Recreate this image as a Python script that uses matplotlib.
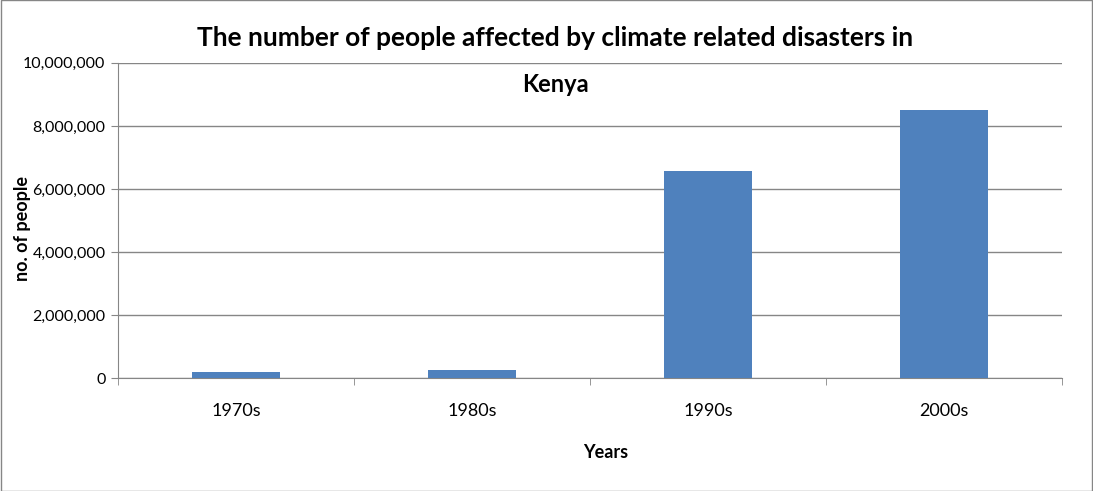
import numpy as np
import matplotlib
matplotlib.use("Agg")
import matplotlib.pyplot as plt
from matplotlib.ticker import FuncFormatter

decades = ["1970s", "1980s", "1990s", "2000s"]
affected = [190000, 260000, 6580000, 8520000]

plt.rcParams["font.family"] = ["Lato", "DejaVu Sans"]

fig = plt.figure(figsize=(10.93, 4.91), dpi=100)
ax = fig.add_axes([0.108, 0.230, 0.8636, 0.642])

x = np.arange(len(decades))
ax.bar(x, affected, width=0.37, color="#4f81bd", zorder=3)

ax.set_xlim(-0.5, len(decades) - 0.5)
ax.set_ylim(0, 10000000)
ax.set_yticks(np.arange(0, 10000001, 2000000))
ax.yaxis.set_major_formatter(FuncFormatter(lambda v, p: f"{int(v):,}"))
ax.set_xticks(x)
ax.set_xticklabels(decades)
ax.set_xticks(np.arange(-0.5, len(decades), 1), minor=True)
ax.tick_params(axis="x", which="major", length=0, labelsize=13, pad=18)
ax.tick_params(axis="x", which="minor", length=5, color="#868686")
ax.tick_params(axis="y", length=5, color="#868686", labelsize=11.5, pad=4)

ax.grid(axis="y", color="#868686", linewidth=1, zorder=0)
for s in ["top", "right"]:
    ax.spines[s].set_visible(False)
for s in ["left", "bottom"]:
    ax.spines[s].set_color("#868686")

fig.text(0.554, 0.079, "Years", ha="center", va="center", fontsize=13, fontweight="bold")
fig.text(0.021, 0.535, "no. of people", ha="center", va="center", rotation=90,
         fontsize=13, fontweight="bold")

fig.text(0.508, 0.922, "The number of people affected by climate related disasters in",
         ha="center", va="center", fontsize=19, fontweight="bold")
fig.text(0.508, 0.828, "Kenya", ha="center", va="center", fontsize=17, fontweight="bold")

border = plt.Rectangle((0.001, 0.001), 0.998, 0.998, transform=fig.transFigure,
                       fill=False, edgecolor="#868686", linewidth=1)
fig.patches.append(border)

plt.savefig("out.png", dpi=100)
plt.close()
